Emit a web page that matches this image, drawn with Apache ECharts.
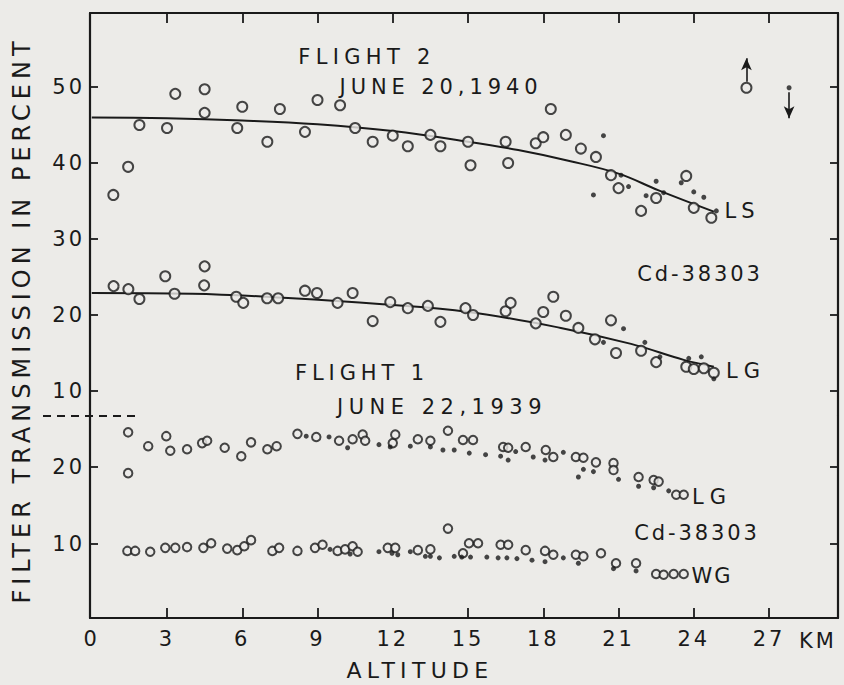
<!DOCTYPE html>
<html>
<head>
<meta charset="utf-8">
<script src="https://cdn.jsdelivr.net/npm/echarts@6/dist/echarts.min.js"></script>
<style>
  html, body { margin: 0; padding: 0; background: #ecebe8; }
  #chart { width: 844px; height: 685px; }
</style>
</head>
<body>
<div id="chart"></div>
<script>
// altitude ticks (km)
var xTicks = [3, 6, 9, 12, 15, 18, 21, 24, 27];
var xLabels = [0, 3, 6, 9, 12, 15, 18, 21, 24, 27];
var upperTicks = [10, 20, 30, 40, 50];
var lowerTicks = [10, 20];

// flight 2, june 20 1940 - LS filter
var lsOpen = [[0.86,35.8],[1.45,39.5],[1.9,45.0],[3.0,44.6],[3.33,49.1],[4.5,49.7],[4.5,46.6],[5.8,44.6],[6.0,47.4],[7.0,42.8],
    [7.5,47.1],[8.5,44.1],[9.0,48.3],[9.9,47.6],[10.5,44.6],[11.2,42.8],[12.0,43.6],[12.6,42.2],[13.5,43.7],[13.9,42.2],
    [15.0,42.8],[15.1,39.7],[16.5,42.8],[16.6,40.0],[17.7,42.6],[18.0,43.4],[18.3,47.1],[18.9,43.7],[19.5,41.9],[20.1,40.8],
    [20.7,38.4],[21.0,36.7],[21.9,33.7],[22.5,35.4],[23.7,38.3],[24.0,34.1],[24.7,32.8],[26.1,49.9]];
var lsDots = [[20.0,35.8],[20.4,43.6],[21.1,38.4],[21.4,36.9],[22.1,35.7],[22.5,37.6],[22.8,36.1],[23.5,37.4],[24.0,36.2],
    [24.4,35.5],[24.9,33.7],[27.8,49.9]];
var lsCurve = [[0,46.0],[3,45.9],[6,45.6],[9,45.1],[12,44.2],[15,42.8],[17,41.7],[19,40.3],[21,38.6],[22.6,36.4],[24.8,33.6]];
// arrows: x, from, to
var arrowUp = [26.1, 50.7, 53.8];
var arrowDown = [27.8, 49.3, 45.9];

// flight 2 - LG filter
var lgOpen2 = [[0.87,23.8],[1.46,23.4],[1.9,22.1],[2.93,25.1],[3.3,22.8],[4.5,26.4],[4.48,23.9],[5.76,22.4],[6.04,21.6],[6.99,22.2],
    [7.43,22.2],[8.5,23.2],[8.98,22.9],[9.8,21.6],[10.4,22.9],[11.2,19.2],[11.9,21.7],[12.6,20.9],[13.4,21.2],[13.9,19.1],
    [14.9,20.9],[15.2,20.0],[16.5,20.5],[16.7,21.6],[17.7,18.9],[18.0,20.4],[18.4,22.4],[18.9,19.9],[19.4,18.3],[20.06,16.8],
    [20.7,19.3],[20.9,15.0],[21.9,15.3],[22.5,13.8],[23.7,13.2],[24.0,12.9],[24.4,13.0],[24.8,12.4]];
var lgDots2 = [[20.4,16.4],[21.2,18.2],[22.05,16.4],[22.65,14.5],[23.8,14.3],[24.3,14.5],[24.8,11.6]];
var lgCurve2 = [[0,22.9],[4,22.8],[8,22.2],[11.6,21.4],[15,20.4],[18.7,18.3],[21.5,16.2],[23.6,14.1],[24.8,13.2]];

// flight 1, june 22 1939 - LG filter
var lgOpen1 = [[1.45,24.5],[1.45,19.2],[2.25,22.7],[2.97,24.0],[3.13,22.1],[3.8,22.3],[4.4,23.1],[4.6,23.4],[5.3,22.5],[5.96,21.4],
    [6.35,23.2],[7.0,22.3],[7.37,22.7],[8.2,24.3],[8.95,23.9],[9.86,23.4],[10.4,23.6],[10.8,24.2],[10.9,23.4],[12.0,23.1],
    [12.1,24.2],[13.0,23.6],[13.5,23.4],[14.2,24.7],[14.8,23.5],[15.2,23.5],[16.4,22.6],[16.6,22.5],[17.3,22.6],[18.1,22.2],
    [18.4,21.3],[19.3,21.3],[19.6,21.2],[20.1,20.6],[20.8,20.5],[20.8,19.6],[21.8,18.7],[22.4,18.3],[22.6,18.1],[23.3,16.4],
    [23.6,16.4]];
var lgDots1 = [[8.55,24.0],[9.46,23.9],[10.2,22.5],[11.45,22.9],[11.9,22.6],[12.7,22.7],[13.5,22.6],[14.0,22.2],[14.45,22.2],
    [15.05,21.8],[15.7,21.6],[16.3,21.4],[16.6,20.9],[16.9,22.0],[17.6,21.3],[18.07,20.9],[18.8,21.9],[19.4,18.7],[19.6,19.7],
    [20.0,19.4],[21.0,18.4],[21.8,17.5],[22.4,17.3],[23.0,16.9]];

// flight 1 - WG filter
var wgOpen1 = [[1.42,9.1],[1.73,9.1],[2.33,9.0],[2.93,9.5],[3.33,9.5],[3.8,9.6],[4.45,9.5],[4.76,10.1],[5.4,9.4],[5.8,9.2],
    [6.08,9.7],[6.35,10.5],[7.2,9.1],[7.47,9.5],[8.2,9.1],[8.9,9.5],[9.2,9.9],[9.8,9.1],[10.1,9.3],[10.4,9.7],
    [10.6,9.0],[11.8,9.5],[12.1,9.5],[13.0,9.2],[13.5,9.3],[14.2,12.0],[14.8,8.8],[15.04,10.1],[15.4,10.1],[16.3,9.9],
    [16.6,9.9],[17.3,9.2],[18.07,9.1],[18.4,8.6],[19.3,8.6],[19.6,8.4],[20.3,8.8],[20.9,7.5],[21.7,7.5],[22.5,6.1],
    [22.8,6.0],[23.2,6.1],[23.6,6.1]];
var wgDots1 = [[9.5,9.3],[10.3,8.7],[11.45,9.0],[11.97,8.8],[12.2,8.6],[12.7,9.0],[13.3,8.4],[13.5,8.4],[13.86,8.2],[14.45,8.4],
    [14.75,8.3],[15.1,8.3],[15.75,8.3],[16.2,8.2],[16.55,8.2],[16.95,8.1],[17.55,7.9],[18.07,7.7],[18.8,8.2],[19.4,7.5],
    [20.8,6.8],[21.7,6.5]];

var ink = '#1a1a1a';
var paper = '#ecebe8';
var font = '"DejaVu Sans", sans-serif';

// hand lettering on the original is widely spaced
var spacing = {
    'FILTER TRANSMISSION IN PERCENT': 5,
    'ALTITUDE': 5.3,
    'FLIGHT 2': 5.3,
    'FLIGHT 1': 4.9,
    'JUNE 20,1940': 4.9,
    'JUNE 22,1939': 5.5,
    'LS': 5,
    'LG': 6,
    'WG': 2,
    'Cd-38303': 2.9,
    'KM': 3
};

var chart = echarts.init(document.getElementById('chart'), null, {renderer: 'svg'});

function spaceText() {
    var nodes = document.querySelectorAll('#chart text');
    for (var i = 0; i < nodes.length; i++) {
        var s = spacing[nodes[i].textContent];
        nodes[i].setAttribute('letter-spacing', (s == null ? 3 : s) + 'px');
    }
}
chart.on('finished', spaceText);

function xAxis(grid, pos, labels) {
    return {
        type: 'value', gridIndex: grid, position: pos, min: -0.07, max: 29.75,
        splitLine: {show: false},
        axisLine: {show: true, onZero: false, lineStyle: {color: ink, width: 2.2}},
        axisTick: {show: true, inside: true, length: 10, customValues: xTicks, lineStyle: {color: ink, width: 1.8}},
        axisLabel: {
            show: labels, customValues: xLabels, margin: 10, color: ink,
            fontFamily: font, fontSize: 21
        }
    };
}

function yAxis(grid, pos, min, max, ticks, labels) {
    return {
        type: 'value', gridIndex: grid, position: pos, min: min, max: max,
        splitLine: {show: false},
        axisLine: {show: true, onZero: false, lineStyle: {color: ink, width: 2.2}},
        axisTick: {show: true, inside: true, length: 8, customValues: ticks, lineStyle: {color: ink, width: 1.8}},
        axisLabel: {
            show: labels, customValues: ticks, margin: 5, color: ink,
            fontFamily: font, fontSize: 21
        }
    };
}

function openDots(data, x, y, size) {
    return {
        type: 'scatter', xAxisIndex: x, yAxisIndex: y, data: data, silent: true, z: 4,
        symbol: 'circle', symbolSize: size,
        itemStyle: {color: paper, borderColor: ink, borderWidth: 2}
    };
}

function solidDots(data, x, y) {
    return {
        type: 'scatter', xAxisIndex: x, yAxisIndex: y, data: data, silent: true, z: 5,
        symbol: 'circle', symbolSize: 5,
        itemStyle: {color: ink}
    };
}

function curve(data) {
    return {
        type: 'line', xAxisIndex: 0, yAxisIndex: 0, data: data, silent: true, z: 3,
        smooth: 0.4, symbol: 'none',
        lineStyle: {color: ink, width: 2}
    };
}

function label(text, x, y) {
    return {
        type: 'text', x: x, y: y, z: 10, silent: true,
        style: {text: text, fill: ink, font: '21px ' + font, textAlign: 'center', textVerticalAlign: 'middle'}
    };
}

var arrowSeries = {
    type: 'scatter', xAxisIndex: 0, yAxisIndex: 0, data: [], silent: true,
    markLine: {
        silent: true, animation: false,
        symbol: ['none', 'arrow'], symbolSize: [8, 12],
        label: {show: false},
        lineStyle: {color: ink, width: 1.6, type: 'solid'},
        data: [
            [{coord: [arrowUp[0], arrowUp[1]]}, {coord: [arrowUp[0], arrowUp[2]]}],
            [{coord: [arrowDown[0], arrowDown[1]]}, {coord: [arrowDown[0], arrowDown[2]]}]
        ]
    }
};

var option = {
    backgroundColor: paper,
    animation: false,
    grid: [
        {left: 90, right: 6, top: 13, height: 403},
        {left: 90, right: 6, top: 416, height: 202}
    ],
    xAxis: [xAxis(0, 'top', false), xAxis(1, 'bottom', true)],
    yAxis: [
        yAxis(0, 'left', 6.71, 59.74, upperTicks, true),
        yAxis(0, 'right', 6.71, 59.74, upperTicks, false),
        yAxis(1, 'left', 0.39, 26.62, lowerTicks, true),
        yAxis(1, 'right', 0.39, 26.62, lowerTicks, false)
    ],
    graphic: [
        {
            type: 'line', silent: true,
            shape: {x1: 43, y1: 416, x2: 135, y2: 416},
            style: {stroke: ink, lineWidth: 2, lineDash: [8, 6]}
        },
        {
            type: 'text', x: 22, y: 320, rotation: Math.PI / 2, silent: true,
            style: {text: 'FILTER TRANSMISSION IN PERCENT', fill: ink, font: '24px ' + font,
                textAlign: 'center', textVerticalAlign: 'middle'}
        },
        {
            type: 'text', x: 420, y: 670, silent: true,
            style: {text: 'ALTITUDE', fill: ink, font: '22px ' + font,
                textAlign: 'center', textVerticalAlign: 'middle'}
        },
        label('KM', 818, 641),
        label('FLIGHT 2', 367, 57),
        label('JUNE 20,1940', 441, 87),
        label('LS', 742, 211),
        label('Cd-38303', 700, 274),
        label('LG', 746, 371),
        label('FLIGHT 1', 362, 373),
        label('JUNE 22,1939', 442, 407),
        label('LG', 712, 497),
        label('Cd-38303', 697, 533),
        label('WG', 712, 576)
    ],
    series: [
        curve(lsCurve),
        curve(lgCurve2),
        openDots(lsOpen, 0, 0, 10),
        solidDots(lsDots, 0, 0),
        openDots(lgOpen2, 0, 0, 10),
        solidDots(lgDots2, 0, 0),
        openDots(lgOpen1, 1, 2, 8.5),
        solidDots(lgDots1, 1, 2),
        openDots(wgOpen1, 1, 2, 8.5),
        solidDots(wgDots1, 1, 2),
        arrowSeries
    ]
};

chart.setOption(option);
spaceText();
</script>
</body>
</html>
